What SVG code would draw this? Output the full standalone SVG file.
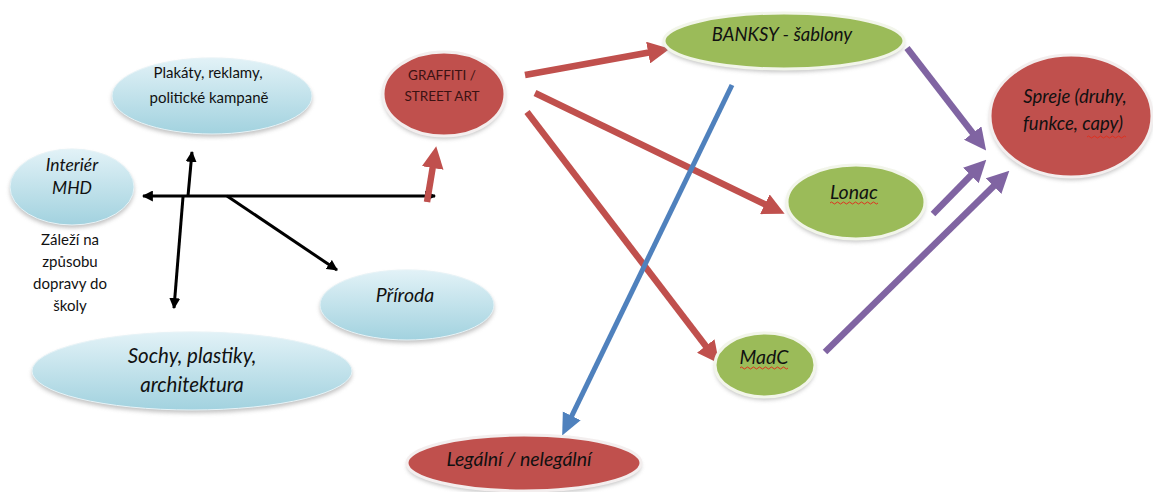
<svg xmlns="http://www.w3.org/2000/svg" width="1153" height="492" viewBox="0 0 1153 492">
<defs>
<linearGradient id="gBlue" x1="0" y1="0" x2="0" y2="1">
<stop offset="0" stop-color="#e2f2f7"/>
<stop offset="1" stop-color="#a2d2df"/>
</linearGradient>
<filter id="sh" x="-20%" y="-20%" width="140%" height="150%">
<feGaussianBlur stdDeviation="2"/>
</filter>
<marker id="aRed" markerUnits="userSpaceOnUse" markerWidth="22" markerHeight="22" viewBox="0 0 20 20" refX="2" refY="10" orient="auto">
<path d="M0,0 L20,10 L0,20 z" fill="#c0504d"/>
</marker>
<marker id="aPur" markerUnits="userSpaceOnUse" markerWidth="22" markerHeight="22" viewBox="0 0 20 20" refX="2" refY="10" orient="auto">
<path d="M0,0 L20,10 L0,20 z" fill="#8064a2"/>
</marker>
<marker id="aBlu" markerUnits="userSpaceOnUse" markerWidth="22" markerHeight="22" viewBox="0 0 20 20" refX="2" refY="10" orient="auto">
<path d="M0,1 L20,10 L0,19 z" fill="#4f81bd"/>
</marker>
<marker id="aBlk" markerUnits="userSpaceOnUse" markerWidth="11" markerHeight="11" viewBox="0 0 10 10" refX="9" refY="5" orient="auto-start-reverse">
<path d="M0,0 L10,5 L0,10 z" fill="#000"/>
</marker>
</defs>
<style>
.t{font-family:Lato,"Liberation Sans",sans-serif;fill:#111;text-anchor:middle}
.i{font-style:italic}
.shadow{fill:#9a9a9a;opacity:0.6;filter:url(#sh)}
.red{fill:#c0504d;stroke:#f3eeee;stroke-width:3}
.grn{fill:#9bbb59;stroke:#f2f5ea;stroke-width:3}
.blu{fill:url(#gBlue);stroke:#e6f3f7;stroke-width:1}
.cr{stroke:#c0504d;stroke-width:6.5;fill:none;marker-end:url(#aRed)}
.cp{stroke:#8064a2;stroke-width:6.5;fill:none;marker-end:url(#aPur)}
.cb{stroke:#4f81bd;stroke-width:5;fill:none;marker-end:url(#aBlu)}
.ck{stroke:#000;stroke-width:3;fill:none;marker-end:url(#aBlk)}
.wav{stroke:#e03020;stroke-width:1;fill:none}
</style>
<rect width="1153" height="492" fill="#fff"/>

<g id="connectors">
<line class="ck" x1="143" y1="196" x2="435" y2="196" style="marker-start:url(#aBlk)"/>
<line class="ck" x1="188" y1="196" x2="192" y2="152"/>
<line class="ck" x1="183" y1="197" x2="174" y2="308"/>
<line class="ck" x1="227" y1="196" x2="337" y2="270"/>
<line class="cr" x1="427" y1="202" x2="433" y2="165.8"/>
<line class="cr" x1="525" y1="75" x2="650.3" y2="52.2"/>
<line class="cr" x1="535" y1="93" x2="766.8" y2="205.2"/>
<line class="cr" x1="527" y1="112" x2="707.1" y2="347.7"/>
<line class="cb" x1="732" y1="85" x2="570.8" y2="417.8"/>
<line class="cp" x1="907" y1="48" x2="974" y2="134.8"/>
<line class="cp" x1="933" y1="214" x2="972.4" y2="173.9"/>
<line class="cp" x1="825" y1="352" x2="995.2" y2="184.6"/>
</g>

<g id="plakaty">
<ellipse class="shadow" cx="212" cy="99" rx="100" ry="38"/>
<ellipse class="blu" cx="212" cy="96" rx="100" ry="38"/>
<text class="t" x="208" y="78" font-size="15">Plakáty, reklamy,</text>
<text class="t" x="209" y="103" font-size="15">politické kampaně</text>
</g>

<g id="interier">
<ellipse class="shadow" cx="72" cy="190" rx="62" ry="38"/>
<ellipse class="blu" cx="72" cy="187" rx="62" ry="38"/>
<text class="t i" x="72" y="171" font-size="17.5">Interiér</text>
<text class="t i" x="72" y="194" font-size="17.5">MHD</text>
</g>

<g id="zalezi">
<text class="t" x="70" y="245" font-size="15">Záleží na</text>
<text class="t" x="70" y="267" font-size="15">způsobu</text>
<text class="t" x="70" y="289" font-size="15">dopravy do</text>
<text class="t" x="70" y="311" font-size="15">školy</text>
</g>

<g id="priroda">
<ellipse class="shadow" cx="407" cy="308" rx="87" ry="35"/>
<ellipse class="blu" cx="407" cy="305" rx="87" ry="35"/>
<text class="t i" x="405" y="302" font-size="19.5">Příroda</text>
</g>

<g id="sochy">
<ellipse class="shadow" cx="192" cy="374" rx="160" ry="39"/>
<ellipse class="blu" cx="192" cy="371" rx="160" ry="39"/>
<text class="t i" x="192" y="363" font-size="20.5">Sochy, plastiky,</text>
<text class="t i" x="192" y="392" font-size="20.5">architektura</text>
</g>

<g id="graffiti">
<ellipse class="shadow" cx="444" cy="97" rx="61" ry="42"/>
<ellipse class="red" cx="444" cy="94" rx="61" ry="42"/>
<text class="t" x="442" y="80" font-size="13.5" style="fill:#3b1212">GRAFFITI /</text>
<text class="t" x="442" y="101" font-size="13.5" style="fill:#3b1212">STREET ART</text>
</g>

<g id="banksy">
<ellipse class="shadow" cx="784" cy="44" rx="120" ry="28"/>
<ellipse class="grn" cx="784" cy="41" rx="120" ry="28"/>
<text class="t i" x="782" y="41" font-size="18.5">BANKSY - šablony</text>
</g>

<g id="lonac">
<ellipse class="shadow" cx="856" cy="205" rx="69" ry="37"/>
<ellipse class="grn" cx="856" cy="202" rx="69" ry="37"/>
<text class="t i" x="854" y="199" font-size="19.5">Lonac</text>
<path class="wav" d="M830,203 q1.5,-2 3,0 t3,0 t3,0 t3,0 t3,0 t3,0 t3,0 t3,0 t3,0 t3,0 t3,0 t3,0 t3,0 t3,0 t3,0 t3,0"/>
</g>

<g id="madc">
<ellipse class="shadow" cx="765" cy="368" rx="50" ry="32"/>
<ellipse class="grn" cx="765" cy="365" rx="50" ry="32"/>
<text class="t i" x="764" y="364" font-size="19.5">MadC</text>
<path class="wav" d="M740,368 q1.5,-2 3,0 t3,0 t3,0 t3,0 t3,0 t3,0 t3,0 t3,0 t3,0 t3,0 t3,0 t3,0 t3,0 t3,0 t3,0 t3,0"/>
</g>

<g id="spreje">
<ellipse class="shadow" cx="1071" cy="119" rx="81" ry="61"/>
<ellipse class="red" cx="1071" cy="116" rx="81" ry="61"/>
<text class="t i" x="1075" y="103" font-size="18.5">Spreje (druhy,</text>
<text class="t i" x="1073" y="130" font-size="18.5">funkce, capy)</text>
<path class="wav" d="M1087,137 q1.5,-2 3,0 t3,0 t3,0 t3,0 t3,0 t3,0 t3,0 t3,0 t3,0 t3,0 t3,0 t3,0 t3,0"/>
</g>

<g id="legalni">
<ellipse class="shadow" cx="524" cy="466" rx="117" ry="28"/>
<ellipse class="red" cx="524" cy="463" rx="117" ry="28"/>
<text class="t i" x="519" y="466" font-size="19.5">Legální / nelegální</text>
</g>
</svg>
